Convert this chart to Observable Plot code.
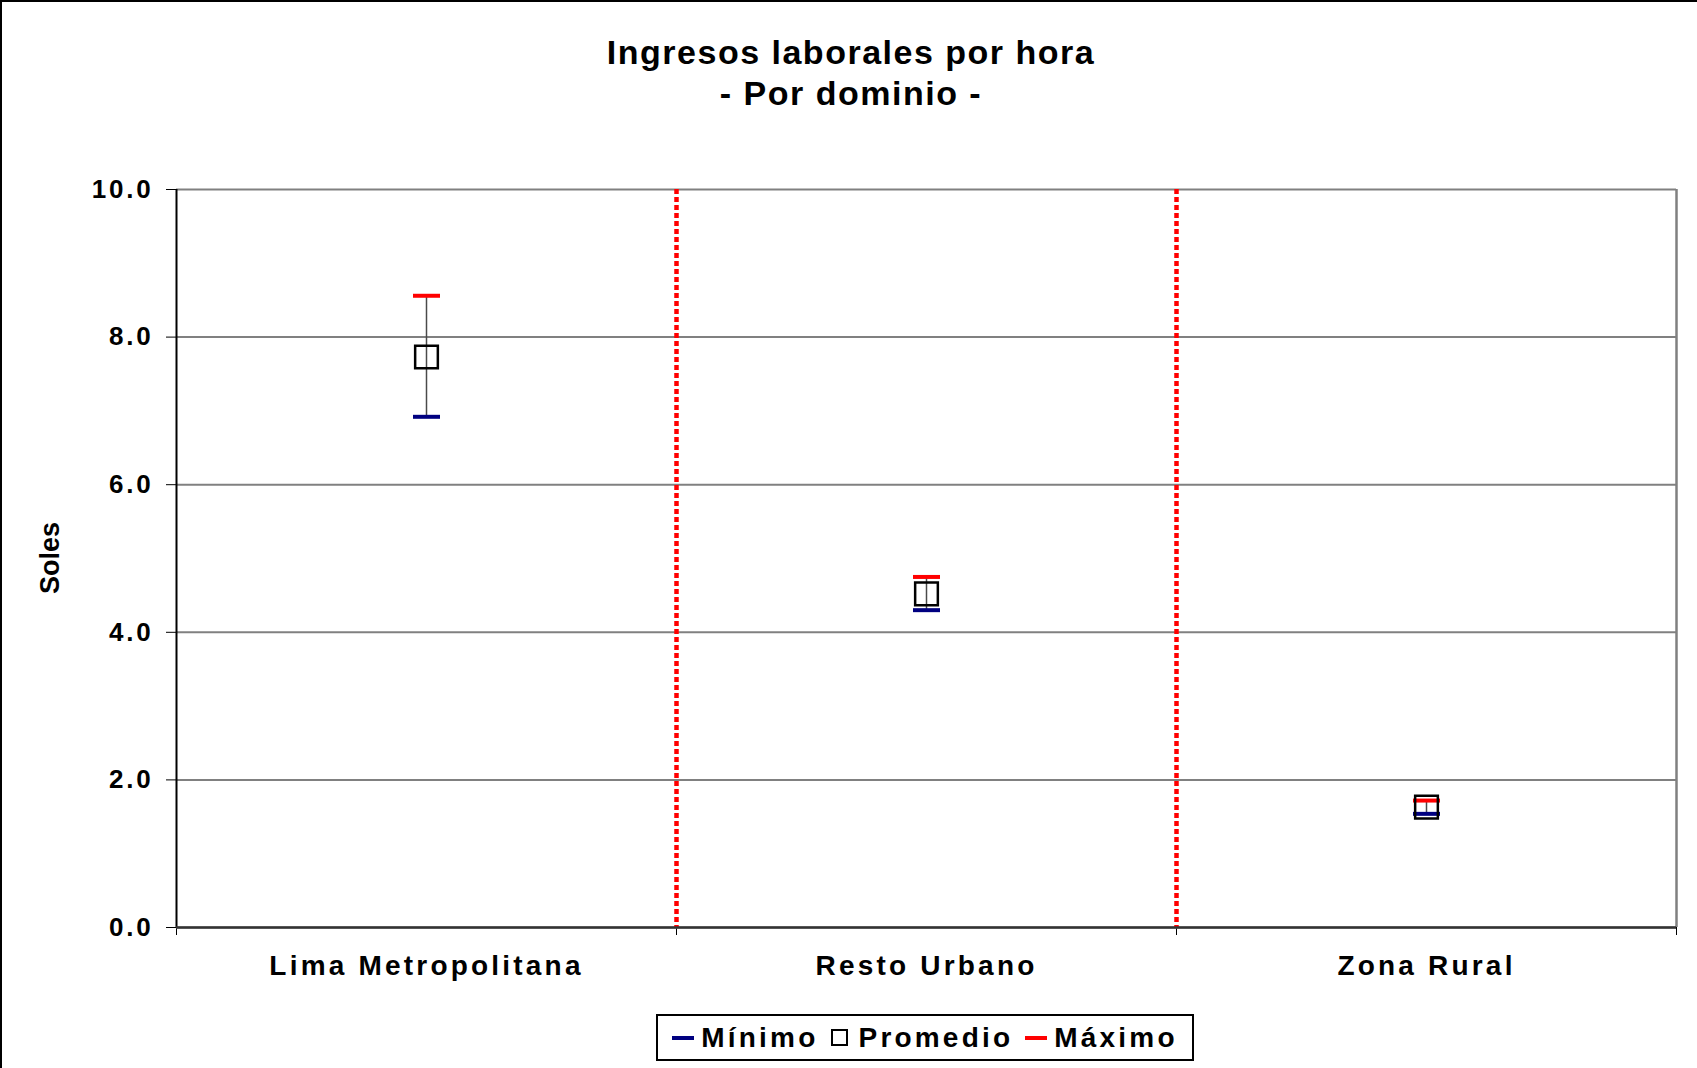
<!DOCTYPE html>
<html>
<head>
<meta charset="utf-8">
<script src="https://cdn.jsdelivr.net/npm/d3@7"></script>
<script src="https://cdn.jsdelivr.net/npm/@observablehq/plot@0.6"></script>
<style>
  html, body { margin: 0; padding: 0; background: #fff; }
  #wrap { position: relative; width: 1697px; height: 1068px; overflow: hidden; background: #fff;
          font-family: "Liberation Sans", Arial, sans-serif; }
  #chart { position: absolute; left: 0; top: 0; }
  .title { position: absolute; left: 0; width: 1702px; text-align: center; font-weight: bold;
           font-size: 34px; letter-spacing: 1.5px; color: #000; line-height: 1; }
  #ylab { position: absolute; left: 50px; top: 558px; transform: translate(-50%, -50%) rotate(-90deg);
          font-weight: bold; font-size: 27px; color: #000; white-space: nowrap; }
  #legend { position: absolute; left: 656px; top: 1014px; width: 538px; height: 47px; box-sizing: border-box;
            border: 2px solid #000; display: flex; align-items: center; justify-content: center;
            font-weight: bold; font-size: 28px; letter-spacing: 3.2px; color: #000; }
  .item { display: flex; align-items: center; margin: 0 6px; }
  .line { width: 22px; height: 4px; margin-right: 7px; }
  .sq { width: 17px; height: 17px; border: 2px solid #000; margin-right: 11px; box-sizing: border-box; }
  .bl { position: absolute; background: #000; }
</style>
</head>
<body>
<div id="wrap">
  <div class="bl" style="left:0;top:0;width:2px;height:1068px"></div>
  <div class="bl" style="left:0;top:0;width:1697px;height:2px"></div>
  <div id="chart"></div>
  <div class="title" style="top:35px">Ingresos laborales por hora</div>
  <div class="title" style="top:76px">- Por dominio -</div>
  <div id="ylab">Soles</div>
  <div id="legend"></div>
</div>
<script>
// ---- data ----
const categories = ["Lima Metropolitana", "Resto Urbano", "Zona Rural"];
const minimo   = [6.92, 4.30, 1.54];
const promedio = [7.73, 4.52, 1.63];
const maximo   = [8.56, 4.75, 1.72];
const yTicks   = [0, 2, 4, 6, 8, 10];
const seriesNames = ["Mínimo", "Promedio", "Máximo"];

const n = categories.length;
const data = categories.map((c, i) => ({c, pos: i + 0.5, min: minimo[i], prom: promedio[i], max: maximo[i]}));

const capSymbol = {
  draw(context, size) {
    const w = Math.sqrt(size / Math.PI);
    context.moveTo(-w, 0);
    context.lineTo(w, 0);
  }
};

const W = 1697, H = 1000;
const chart = Plot.plot({
  width: W,
  height: H,
  marginTop: 189,
  marginBottom: H - 927,
  marginLeft: 176,
  marginRight: W - 1676,
  style: {
    fontFamily: "'Liberation Sans', Arial, sans-serif",
    fontSize: "26px",
    fontWeight: "bold",
    letterSpacing: "2.8px",
    color: "#000",
    background: "transparent"
  },
  x: {domain: [0, n], ticks: d3.range(n + 1), tickFormat: () => "", tickSize: 8, label: null},
  y: {domain: [0, 10], ticks: yTicks, tickFormat: d3.format(".1f"), tickSize: 10, tickPadding: 13, label: null},
  marks: [
    Plot.ruleY(yTicks, {stroke: "#808080", strokeWidth: 2}),
    Plot.ruleX([n], {stroke: "#808080", strokeWidth: 2.5}),
    Plot.ruleX(d3.range(1, n), {stroke: "#ff0000", strokeWidth: 4.5, strokeDasharray: "5,3"}),
    Plot.ruleX([0], {stroke: "#000", strokeWidth: 2}),
    Plot.ruleY([0], {stroke: "#333", strokeWidth: 2.5}),
    Plot.ruleX(data, {x: "pos", y1: "min", y2: "max", stroke: "#4a4a4a", strokeWidth: 1.5}),
    Plot.dot(data, {x: "pos", y: "min", symbol: capSymbol, r: 13.5, stroke: "#000080", strokeWidth: 4, fill: "none"}),
    Plot.dot(data, {x: "pos", y: "max", symbol: capSymbol, r: 13.5, stroke: "#ff0000", strokeWidth: 4, fill: "none"}),
    Plot.dot(data, {x: "pos", y: "prom", symbol: "square", r: 12.8, stroke: "#000", strokeWidth: 2.5, fill: "none"}),
    Plot.text(data, {x: "pos", text: "c", frameAnchor: "bottom", dy: 47, fontSize: 28, fill: "#000"})
  ]
});
document.getElementById("chart").appendChild(chart);
chart.querySelectorAll('g[aria-label="text"]').forEach(g => { g.style.letterSpacing = "3.2px"; });

// legend
const legend = document.getElementById("legend");
const swatches = [
  {cls: "line", color: "#000080"},
  {cls: "sq", color: null},
  {cls: "line", color: "#ff0000"}
];
seriesNames.forEach((name, i) => {
  const item = document.createElement("div");
  item.className = "item";
  const sw = document.createElement("div");
  sw.className = swatches[i].cls;
  if (swatches[i].color) sw.style.background = swatches[i].color;
  const t = document.createElement("span");
  t.textContent = name;
  item.appendChild(sw);
  item.appendChild(t);
  legend.appendChild(item);
});
</script>
</body>
</html>
